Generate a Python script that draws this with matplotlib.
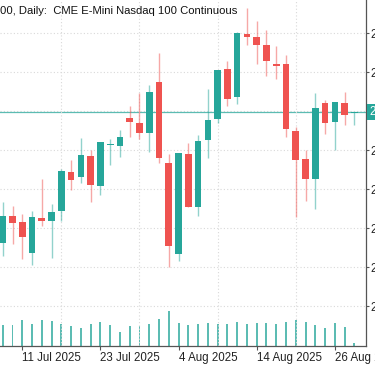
import numpy as np
import pandas as pd
import matplotlib.pyplot as plt

plt.rcParams['font.family'] = ['Liberation Sans', 'DejaVu Sans']

dates = pd.bdate_range('2025-07-09', '2025-08-28')

opens = [22925, 23063, 23032, 22873, 23053, 23038, 23089, 23289, 23263, 23371,
         23217, 23427, 23422, 23566, 23540, 23489, 23750, 23335, 22868, 23381,
         23109, 23453, 23561, 23817, 23673, 23996, 23981, 23940, 23843, 23843,
         23499, 23355, 23253, 23643, 23545, 23643, 23591]
highs = [23135, 23114, 23073, 23089, 23253, 23125, 23304, 23350, 23463, 23402,
         23443, 23458, 23504, 23627, 23694, 23735, 23899, 23381, 23386, 23437,
         23478, 23714, 23812, 23858, 24007, 24130, 24063, 24017, 23935, 23889,
         23520, 23402, 23694, 23658, 23648, 23699, 23597]
lows = [22858, 22920, 22843, 22812, 23012, 22848, 23038, 23197, 23232, 23135,
        23171, 23325, 23366, 23468, 23458, 23391, 23335, 22802, 22832, 23109,
        23063, 23361, 23540, 23627, 23637, 23940, 23843, 23781, 23766, 23468,
        23058, 23140, 23099, 23484, 23402, 23530, 23530]
closes = [23063, 23027, 22955, 23058, 23038, 23084, 23294, 23248, 23376, 23222,
          23443, 23432, 23468, 23545, 23489, 23699, 23361, 22909, 23386, 23109,
          23448, 23555, 23812, 23663, 24002, 23981, 23940, 23858, 23832, 23509,
          23350, 23253, 23617, 23540, 23648, 23581, 23597]
volumes = [428, 414, 514, 434, 528, 494, 434, 400, 368, 434,
           474, 428, 274, 400, 400, 440, 548, 694, 454, 428,
           440, 468, 440, 440, 474, 434, 460, 460, 434, 474,
           514, 480, 428, 368, 460, 380, 60]
price_ticks = [22600, 22800, 23000, 23200, 23400, 23800, 24000]
title = "E-Mini Nasdaq 100, Daily:  CME E-Mini Nasdaq 100 Continuous"

up_col = '#26a69a'
dn_col = '#ef5350'

fig = plt.figure(figsize=(3.75, 3.66), dpi=100)
ax = fig.add_axes([0, 20 / 366, 366 / 375, 346 / 366])
vax = fig.add_axes([0, 20 / 366, 366 / 375, 346 / 366], sharex=ax)
vax.set_zorder(0)
ax.set_zorder(1)
ax.patch.set_visible(False)

x = np.arange(len(dates))
o = np.array(opens); c = np.array(closes)
h = np.array(highs); l = np.array(lows)
up = c >= o
cols = np.where(up, up_col, dn_col)

# wicks, then bodies
ax.vlines(x, l, h, colors=cols, alpha=0.5, lw=1, zorder=2)
body_lo = np.minimum(o, c)
body_h = np.maximum(np.abs(c - o), 5)
ax.bar(x, body_h, bottom=body_lo, width=0.68, color=cols, lw=0, zorder=3)

vax.bar(x, volumes, width=0.2, color=up_col, alpha=0.75, lw=0)
vax.set_ylim(0, 6920)
vax.axis('off')

ax.set_xlim(-0.28, 37.19)
ax.set_ylim(22396.5, 24170.8)

last = closes[-1]
ax.axhline(last, color=up_col, lw=0.9, alpha=0.75, zorder=1)

# grid
ax.set_xticks(x[2::8])
ax.set_xticks(x[2::4], minor=True)
ax.set_xticklabels([d.strftime('%-d %b %Y') for d in dates[2::8]], ha='left')
ax.grid(True, which='minor', axis='x', color='#d9d9d9', ls=(0, (1, 2)), lw=0.8)
for p in price_ticks + [23600]:
    ax.axhline(p, color='#d9d9d9', ls=(0, (1, 2)), lw=0.8, zorder=0)
ax.tick_params(axis='x', which='minor', length=0)
ax.tick_params(axis='x', which='major', length=3, width=0.8, color='#555555',
               labelsize=8.3, pad=1, labelcolor='#222222')

ax.yaxis.tick_right()
ax.set_yticks(price_ticks)
ax.set_yticklabels([f"{p:,}" for p in price_ticks])
ax.tick_params(axis='y', length=2.5, width=0.8, color='#555555', labelsize=8.3,
               pad=0.5, labelcolor='#222222')

for s in ['left', 'top']:
    ax.spines[s].set_visible(False)
for s in ['right', 'bottom']:
    ax.spines[s].set_color('#555555')
    ax.spines[s].set_linewidth(0.9)

ax.text(1.0 + 3 / 366, last, f"{last:,}", transform=ax.get_yaxis_transform(),
        va='center', ha='left', fontsize=8.3, color='white', zorder=10,
        bbox=dict(boxstyle='square,pad=0.15', fc=up_col, ec='none'),
        clip_on=False)

fig.text(237 / 375, 1 - 11 / 366, title, ha='right', va='center', fontsize=8.15,
         color='#111111')

fig.savefig('out.png', dpi=100)
